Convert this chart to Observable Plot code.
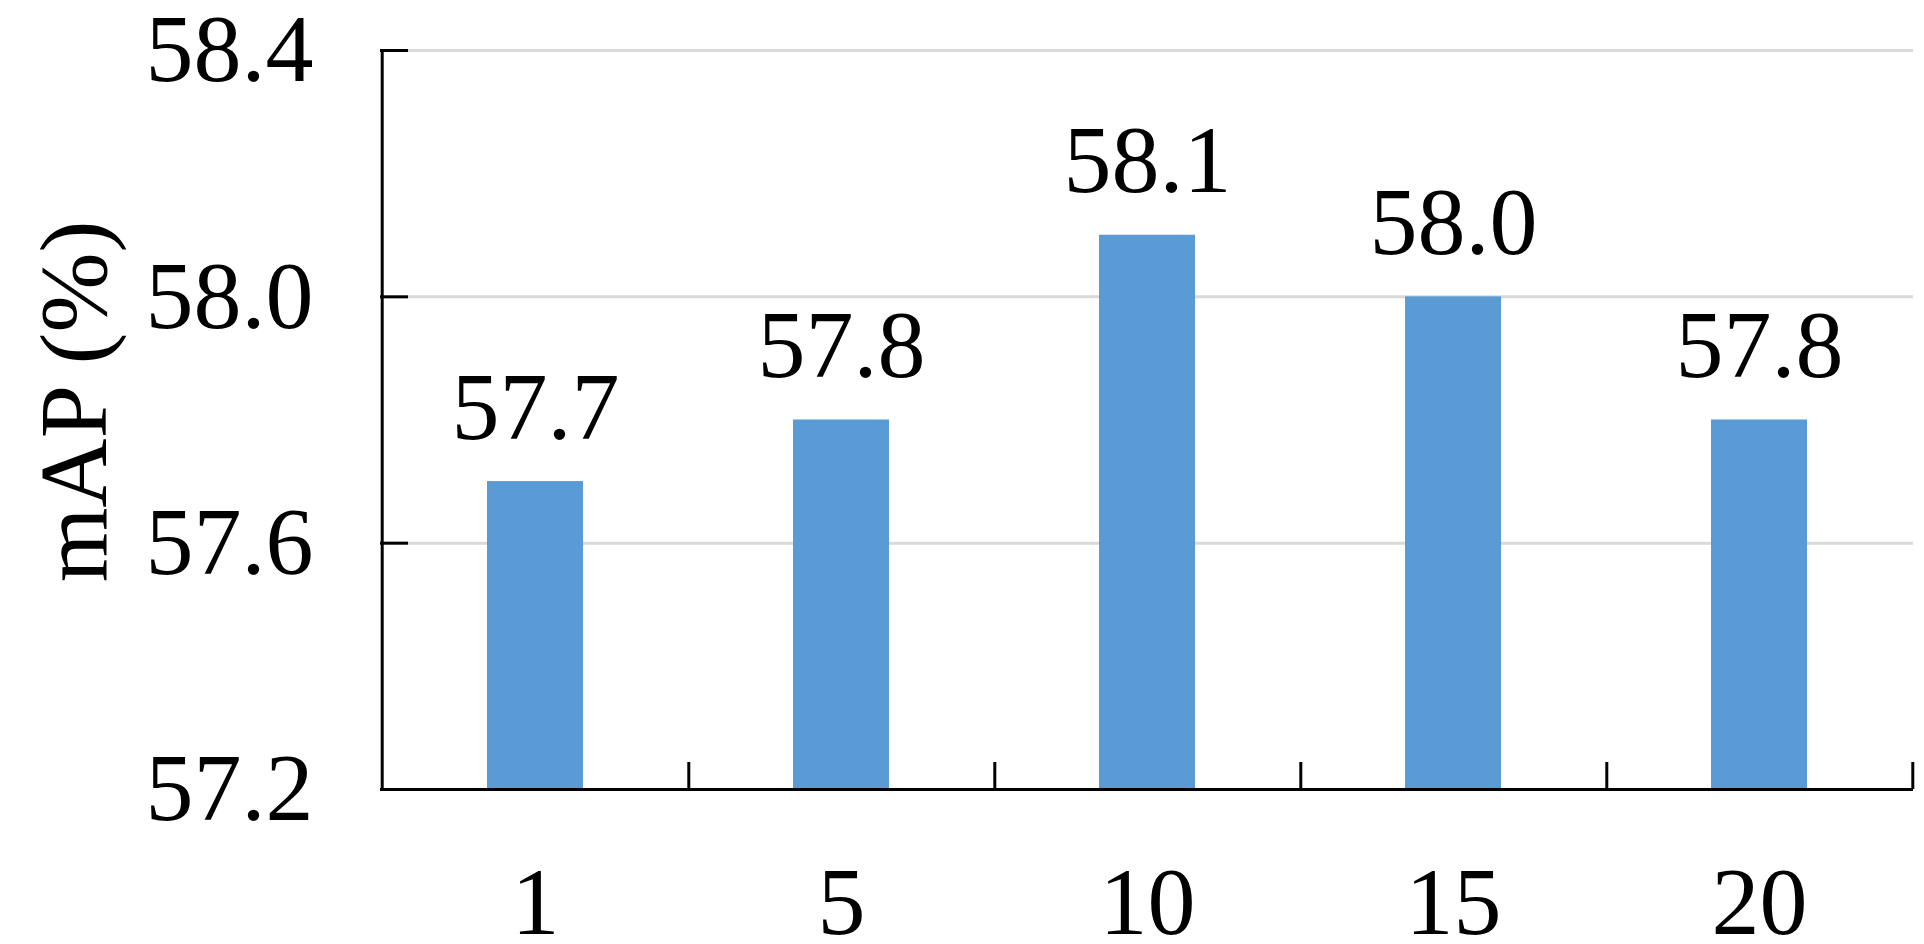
<!DOCTYPE html>
<html><head><meta charset="utf-8">
<script src="https://cdn.jsdelivr.net/npm/d3@7"></script>
<script src="https://cdn.jsdelivr.net/npm/@observablehq/plot@0.6"></script>
<style>html,body{margin:0;padding:0;background:#fff;overflow:hidden}</style>
</head><body><div id="chart"></div>
<script>
const categories = ["1", "5", "10", "15", "20"];
const values = [57.7, 57.8, 58.1, 58.0, 57.8];
const valueLabels = ["57.7", "57.8", "58.1", "58.0", "57.8"];
const yTicks = [57.2, 57.6, 58.0, 58.4];
const yDomain = [57.2, 58.4];
const yTitle = "mAP (%)";

const W = 1924, H = 944;
const mL = 380, mR = 11, mT = 50, mB = 155;
const plotW = W - mL - mR, plotH = H - mT - mB;
const step = plotW / categories.length;
const data = categories.map((c, i) => ({cat: c, value: values[i], label: valueLabels[i]}));

const chart = Plot.plot({
  width: W, height: H,
  marginLeft: mL, marginRight: mR, marginTop: mT, marginBottom: mB,
  style: {fontFamily: '"Liberation Serif", "Times New Roman", serif', fontSize: "96px", color: "#000", background: "#fff"},
  x: {domain: categories, paddingInner: 0.687, paddingOuter: 0.3435},
  y: {domain: yDomain},
  marks: [
    Plot.ruleY(yTicks.slice(1), {stroke: "#d9d9d9", strokeWidth: 3}),
    Plot.barY(data, {x: "cat", y1: yDomain[0], y2: "value", fill: "#5b9bd5"}),
    Plot.ruleY(yTicks, {stroke: "#000", strokeWidth: 3, insetRight: plotW - 28}),
    Plot.ruleX(categories, {x: d => d, dx: step / 2, stroke: "#000", strokeWidth: 3, insetTop: plotH - 27}),
    Plot.ruleX(categories.slice(0, 1), {x: d => d, dx: -step / 2, stroke: "#000", strokeWidth: 3}),
    Plot.ruleY([yDomain[0]], {stroke: "#000", strokeWidth: 3}),
    Plot.text(data, {x: "cat", y: "value", text: "label", lineAnchor: "bottom", dy: -43, fill: "#000"}),
    Plot.axisY({ticks: yTicks, tickSize: 0, tickPadding: 67, tickFormat: d => d.toFixed(1), label: null}),
    Plot.axisX({tickSize: 0, tickPadding: 76, label: null}),
    Plot.text([yTitle], {frameAnchor: "left", rotate: -90, textAnchor: "middle", lineAnchor: "bottom", dx: -275, dy: -18.5, fill: "#000"})
  ]
});
document.getElementById("chart").appendChild(chart);
</script>
</body></html>
